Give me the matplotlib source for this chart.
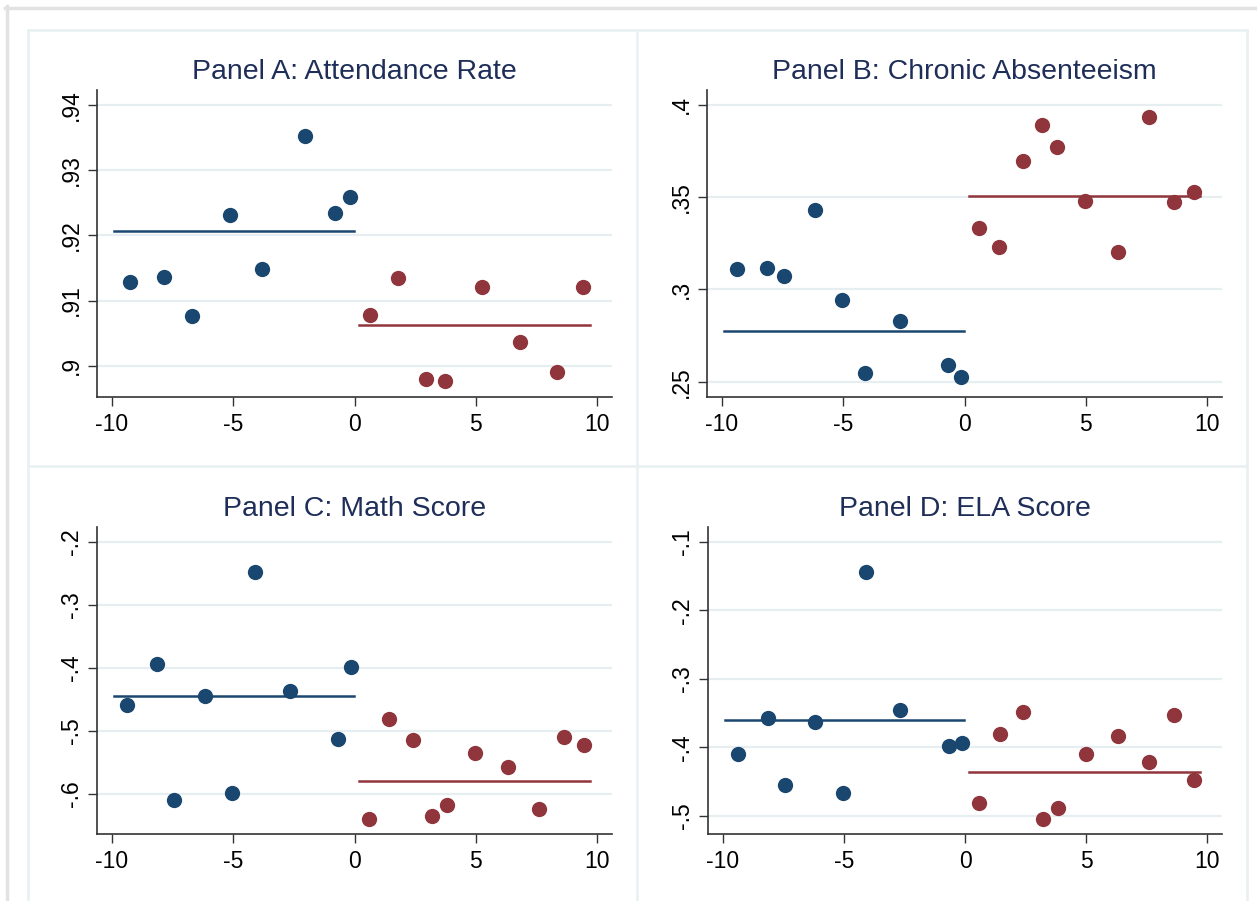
import matplotlib
matplotlib.use("Agg")
import matplotlib.pyplot as plt
from matplotlib.lines import Line2D

plt.rcParams['font.family'] = ['Liberation Sans', 'DejaVu Sans']

# ---------------- data ----------------
titles = ["Panel A: Attendance Rate", "Panel B: Chronic Absenteeism",
          "Panel C: Math Score", "Panel D: ELA Score"]

a_left_x = [-9.26, -7.85, -6.71, -5.13, -3.82, -2.05, -0.81, -0.20]
a_left_y = [0.9129, 0.9136, 0.9077, 0.9231, 0.9148, 0.9353, 0.9235, 0.9259]
a_right_x = [0.64, 1.78, 2.94, 3.75, 5.24, 6.81, 8.37, 9.43]
a_right_y = [0.9078, 0.9135, 0.8979, 0.8976, 0.9121, 0.9036, 0.8990, 0.9120]
a_fit = [0.9206, 0.9062]

bcd_left_x = [-9.40, -8.13, -7.43, -6.18, -5.04, -4.10, -2.67, -0.68, -0.14]
bcd_right_x = [0.59, 1.43, 2.40, 3.21, 3.83, 4.99, 6.33, 7.59, 8.64, 9.48]

b_left_y = [0.3111, 0.3115, 0.3075, 0.3431, 0.2943, 0.2545, 0.2831, 0.2589, 0.2525]
b_right_y = [0.3333, 0.3230, 0.3696, 0.3893, 0.3774, 0.3481, 0.3203, 0.3935, 0.3476, 0.3527]
b_fit = [0.2775, 0.3505]

c_left_y = [-0.4587, -0.3937, -0.6095, -0.4439, -0.5989, -0.2481, -0.4365, -0.5127, -0.3989]
c_right_y = [-0.6392, -0.4815, -0.5143, -0.6354, -0.6169, -0.5344, -0.5577, -0.6238, -0.5101, -0.5228]
c_fit = [-0.4450, -0.5794]

d_left_y = [-0.4100, -0.3573, -0.4548, -0.3632, -0.4665, -0.1434, -0.3461, -0.3982, -0.3939]
d_right_y = [-0.4816, -0.3807, -0.3490, -0.5045, -0.4889, -0.4104, -0.3831, -0.4221, -0.3524, -0.4479]
d_fit = [-0.3607, -0.4363]

fit_left_range = [-9.90, -0.03]
fit_right_range = [0.17, 9.73]

x_ticks = [-10, -5, 0, 5, 10]
a_yticks = [0.90, 0.91, 0.92, 0.93, 0.94]
a_ylabels = [".9", ".91", ".92", ".93", ".94"]
b_yticks = [0.25, 0.30, 0.35, 0.40]
b_ylabels = [".25", ".3", ".35", ".4"]
c_yticks = [-0.6, -0.5, -0.4, -0.3, -0.2]
c_ylabels = ["-.6", "-.5", "-.4", "-.3", "-.2"]
d_yticks = [-0.5, -0.4, -0.3, -0.2, -0.1]
d_ylabels = ["-.5", "-.4", "-.3", "-.2", "-.1"]

# ---------------- style ----------------
W, H = 1257, 901
BLUE = '#1a476f'
RED = '#90353b'
GRID = '#e6eef1'
FRAME = '#e8f0f1'
OUTER = '#e2e2e2'
SPINE = '#333333'
TITLE = '#1e2e58'

fig = plt.figure(figsize=(W / 100, H / 100), dpi=100)
fig.patch.set_facecolor('white')


def px_rect(l, t, r, b):
    return [l / W, 1 - b / H, (r - l) / W, (b - t) / H]


# outer grey border (top and left)
fig.add_artist(Line2D([5 / W, 1], [1 - 7.5 / H, 1 - 7.5 / H], color=OUTER, lw=2.5,
                      transform=fig.transFigure))
fig.add_artist(Line2D([6.5 / W, 6.5 / W], [0, 1 - 6 / H], color=OUTER, lw=2.5,
                      transform=fig.transFigure))
# panel frames
for (x0, x1, y) in [(28, 1247, 30), (28, 1247, 466)]:
    fig.add_artist(Line2D([x0 / W, x1 / W], [1 - y / H, 1 - y / H], color=FRAME, lw=1.8,
                          transform=fig.transFigure))
for x in [28, 637, 1247]:
    fig.add_artist(Line2D([x / W, x / W], [0, 1 - 30 / H], color=FRAME, lw=1.8,
                          transform=fig.transFigure))

panels = [
    (px_rect(97, 90, 612, 397), a_left_x, a_left_y, a_right_x, a_right_y, a_fit,
     a_yticks, a_ylabels, (0.8952, 0.9423)),
    (px_rect(707, 90, 1222, 397), bcd_left_x, b_left_y, bcd_right_x, b_right_y, b_fit,
     b_yticks, b_ylabels, (0.2417, 0.4081)),
    (px_rect(97, 527, 612, 834), bcd_left_x, c_left_y, bcd_right_x, c_right_y, c_fit,
     c_yticks, c_ylabels, (-0.6635, -0.176)),
    (px_rect(708, 527, 1222, 834), bcd_left_x, d_left_y, bcd_right_x, d_right_y, d_fit,
     d_yticks, d_ylabels, (-0.5268, -0.078)),
]

for title, (rect, lx, ly, rx, ry, fit, yt, yl, ylim) in zip(titles, panels):
    ax = fig.add_axes(rect)
    ax.set_facecolor('white')
    for yv in yt:
        ax.axhline(yv, color=GRID, lw=1.6, zorder=0)
    ax.plot(fit_left_range, [fit[0], fit[0]], color=BLUE, lw=1.8, zorder=2)
    ax.plot(fit_right_range, [fit[1], fit[1]], color=RED, lw=1.8, zorder=2)
    ax.plot(lx, ly, 'o', color=BLUE, ms=11, mec='none', zorder=3)
    ax.plot(rx, ry, 'o', color=RED, ms=11, mec='none', zorder=3)
    ax.set_xlim(-10.62, 10.62)
    ax.set_ylim(*ylim)
    ax.set_xticks(x_ticks)
    ax.set_xticklabels([str(v) for v in x_ticks])
    ax.set_yticks(yt)
    ax.set_yticklabels(yl, rotation=90, va='center')
    for s in ['top', 'right']:
        ax.spines[s].set_visible(False)
    for s in ['left', 'bottom']:
        ax.spines[s].set_color(SPINE)
        ax.spines[s].set_linewidth(1.2)
    ax.tick_params(axis='both', direction='out', length=6.5, width=1.0, color=SPINE,
                   labelsize=16.5, labelcolor='black')
    ax.tick_params(axis='x', pad=5)
    ax.tick_params(axis='y', pad=3.5)
    ax.set_title(title, fontsize=20.5, color=TITLE, pad=8)

fig.savefig('out.png', dpi=100, facecolor='white')
